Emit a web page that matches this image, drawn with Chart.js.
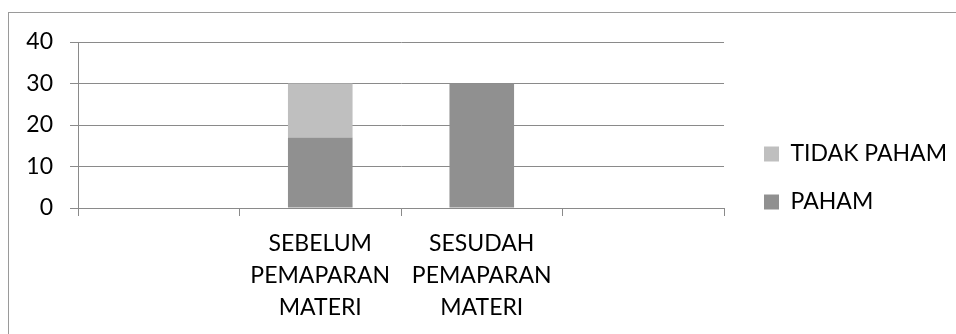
<!DOCTYPE html>
<html>
<head>
<meta charset="utf-8">
<script src="https://cdn.jsdelivr.net/npm/chart.js@4"></script>
<style>
  body { margin: 0; background: #fff; }
  #wrap { position: relative; width: 956px; height: 334px; }
  #frame { position: absolute; left: 8px; top: 12px; right: 0; bottom: 0;
           border-top: 1px solid #9a9a9a; border-left: 1px solid #9a9a9a; }
  canvas { position: absolute; left: 0; top: 0; }
</style>
</head>
<body>
<div id="wrap">
  <div id="frame"></div>
  <canvas id="myChart" width="956" height="334"></canvas>
</div>
<script>
let categories = ['', ['SEBELUM', 'PEMAPARAN', 'MATERI'], ['SESUDAH', 'PEMAPARAN', 'MATERI'], '']
let paham = [null, 17, 30, null]
let tidakPaham = [null, 13, 0, null]
let yTicks = [0, 10, 20, 30, 40]

let gridColor = '#8a8a8a'
let fontFace = 'Lato'

// nudge the legend a bit right and up, like the original
let legendShift = {
    id: 'legendShift',
    afterLayout(chart) {
        let lg = chart.legend
        lg.left += 15
        lg.right += 15
        lg.top -= 10
        lg.bottom -= 10
    }
}

let chartObject = new Chart($id('myChart'), {
    type: 'bar',
    data: {
        labels: categories,
        datasets: [
            {
                label: 'PAHAM',
                data: paham,
                backgroundColor: '#909090',
                barPercentage: 0.4,
                categoryPercentage: 1
            },
            {
                label: 'TIDAK PAHAM',
                data: tidakPaham,
                backgroundColor: '#bfbfbf',
                barPercentage: 0.4,
                categoryPercentage: 1
            }
        ]
    },
    options: {
        responsive: false,
        animation: false,
        layout: {
            padding: { top: 42, right: 14, left: 0, bottom: 0 }
        },
        scales: {
            x: {
                stacked: true,
                afterFit: scale => { scale.height = 126 },
                grid: {
                    offset: true,
                    drawOnChartArea: false,
                    color: gridColor,
                    tickLength: 8
                },
                border: { color: gridColor },
                ticks: {
                    color: '#000',
                    padding: 11,
                    maxRotation: 0,
                    autoSkip: false,
                    font: { family: fontFace, size: 23, lineHeight: 1.4 }
                }
            },
            y: {
                stacked: true,
                min: 0,
                max: 40,
                afterFit: scale => { scale.width = 78 },
                afterBuildTicks: scale => { scale.ticks = yTicks.map(v => ({ value: v })) },
                grid: {
                    color: gridColor,
                    tickLength: 8
                },
                border: { color: gridColor },
                ticks: {
                    color: '#000',
                    padding: 17,
                    font: { family: fontFace, size: 23 }
                }
            }
        },
        plugins: {
            tooltip: { enabled: false },
            legend: {
                position: 'right',
                reverse: true,
                labels: {
                    color: '#000',
                    boxWidth: 15,
                    boxHeight: 15,
                    padding: 25,
                    font: { family: fontFace, size: 23, lineHeight: 1.2 }
                }
            }
        }
    },
    plugins: [legendShift]
})

function $id(id) {
    return document.getElementById(id)
}
</script>
</body>
</html>
